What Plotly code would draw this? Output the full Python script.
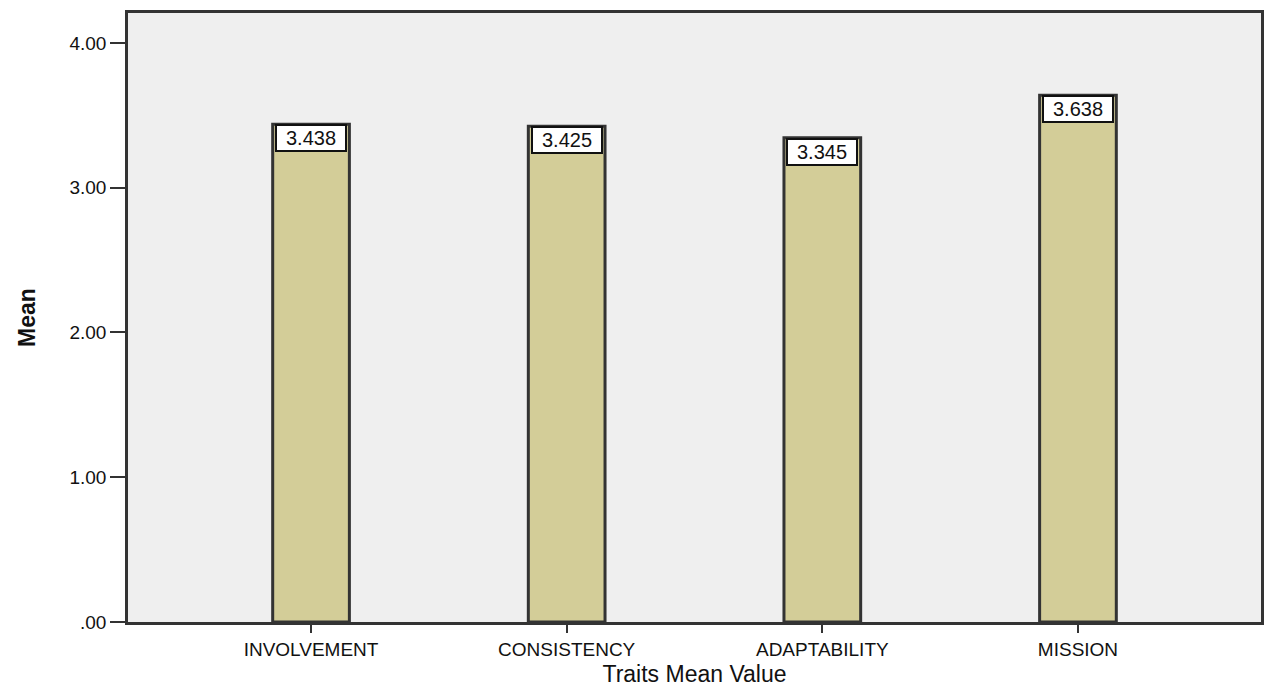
import plotly.graph_objects as go

categories = ["INVOLVEMENT", "CONSISTENCY", "ADAPTABILITY", "MISSION"]
means = [3.438, 3.425, 3.345, 3.638]
y_tickvals = [0, 1, 2, 3, 4]
y_ticktext = [".00", "1.00", "2.00", "3.00", "4.00"]

BAR_FILL = "#d3cd98"
EDGE = "#333333"
FONT = "Liberation Sans, Arial, sans-serif"

fig = go.Figure()
fig.add_trace(go.Bar(
    x=categories,
    y=means,
    width=0.3,
    marker=dict(color=BAR_FILL, line=dict(color=EDGE, width=3)),
    hoverinfo="x+y",
))

# value boxes sitting at the top of each bar
for cat, val in zip(categories, means):
    fig.add_annotation(
        x=cat, y=val, xref="x", yref="y",
        text=f"{val:.3f}", showarrow=False,
        yanchor="top", xanchor="center",
        font=dict(family=FONT, size=20, color="#111111"),
        bgcolor="white", bordercolor="#111111", borderwidth=2, borderpad=0,
        width=68, height=24, yshift=0,
    )

fig.update_layout(
    width=1267, height=687,
    margin=dict(l=128, r=3, t=13, b=63),
    paper_bgcolor="white",
    plot_bgcolor="#efefef",
    showlegend=False,
    bargap=0.7,
    font=dict(family=FONT, size=15, color="#111111"),
)
fig.update_xaxes(
    type="category",
    range=[-0.716, 3.716],
    showgrid=False,
    showline=True, mirror=True, linecolor=EDGE, linewidth=2.5,
    ticks="outside", ticklen=8, tickwidth=2, tickcolor=EDGE,
    tickfont=dict(family=FONT, size=19, color="#111111"),
    title=dict(text="Traits Mean Value", font=dict(family=FONT, size=23, color="#111111"), standoff=8),
)
fig.update_yaxes(
    range=[0, 4.207],
    tickvals=y_tickvals, ticktext=y_ticktext,
    showgrid=False, zeroline=False,
    showline=True, mirror=True, linecolor=EDGE, linewidth=2.5,
    ticks="outside", ticklen=15, tickwidth=2, tickcolor=EDGE,
    tickfont=dict(family=FONT, size=19, color="#111111"),
    title=dict(text="<b>Mean</b>", font=dict(family="Liberation Sans Narrow, Liberation Sans, Arial, sans-serif", size=23, color="#111111"), standoff=28),
)

fig.write_html("out.html")
